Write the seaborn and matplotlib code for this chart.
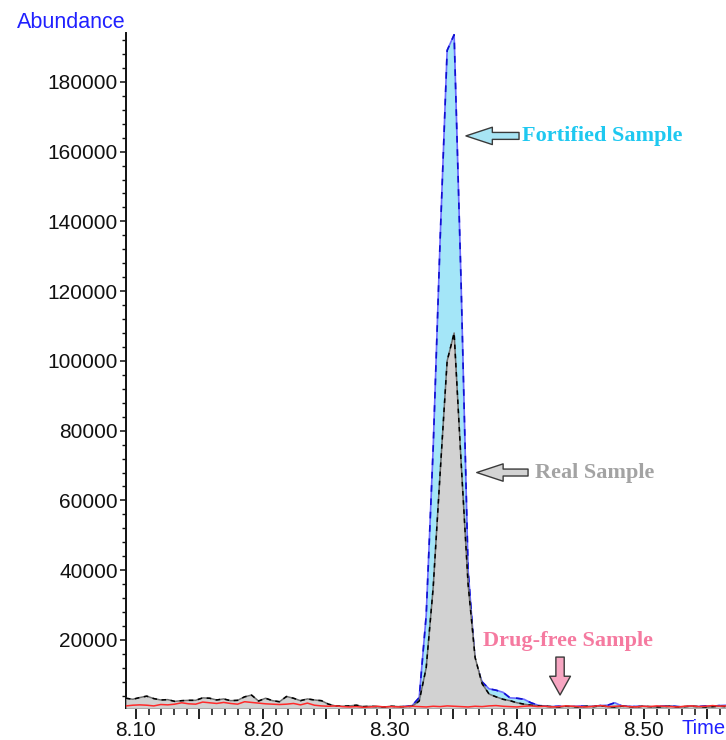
import numpy as np
import pandas as pd
import matplotlib
matplotlib.use("Agg")
import matplotlib.pyplot as plt
import seaborn as sns
from matplotlib.ticker import MultipleLocator, FixedLocator, FuncFormatter

# ---------------- data ----------------
time_min = [
    8.0920, 8.0975, 8.1030, 8.1085, 8.1140, 8.1195, 8.1250, 8.1305, 8.1360, 8.1415,
    8.1470, 8.1525, 8.1580, 8.1635, 8.1690, 8.1745, 8.1800, 8.1855, 8.1910, 8.1965,
    8.2020, 8.2075, 8.2130, 8.2185, 8.2240, 8.2295, 8.2350, 8.2405, 8.2460, 8.2515,
    8.2570, 8.2625, 8.2680, 8.2735, 8.2790, 8.2845, 8.2900, 8.2955, 8.3010, 8.3065,
    8.3120, 8.3175, 8.3230, 8.3285, 8.3340, 8.3395, 8.3450, 8.3505, 8.3560, 8.3615,
    8.3670, 8.3725, 8.3780, 8.3835, 8.3890, 8.3945, 8.4000, 8.4055, 8.4110, 8.4165,
    8.4220, 8.4275, 8.4330, 8.4385, 8.4440, 8.4495, 8.4550, 8.4605, 8.4660, 8.4715,
    8.4770, 8.4825, 8.4880, 8.4935, 8.4990, 8.5045, 8.5100, 8.5155, 8.5210, 8.5265,
    8.5320, 8.5375, 8.5430, 8.5485, 8.5540, 8.5595, 8.5650,
]

fortified = [
    1000, 1100, 1000, 900, 1000, 1300, 1000, 900, 1100, 800,
    900, 1200, 1600, 1000, 1800, 1300, 1100, 1000, 1200, 1500,
    1900, 1700, 1300, 1000, 1400, 2000, 2300, 1700, 1100, 1000,
    900, 800, 900, 700, 800, 700, 800, 700, 800, 800,
    900, 1200, 3500, 27000, 75000, 135000, 189000, 193500, 122000, 40000,
    14000, 8000, 6000, 5600, 5000, 3400, 3300, 3000, 2000, 1300,
    1000, 900, 1000, 800, 900, 1100, 900, 1000, 1200, 1300,
    2000, 1100, 1000, 900, 1000, 800, 900, 1000, 1100, 900,
    800, 1000, 900, 1100, 1000, 1200, 1300,
]

real = [
    3300, 3000, 3500, 3900, 3200, 2800, 2900, 2400, 2600, 2700,
    2700, 3400, 3300, 2800, 3100, 2600, 2700, 3700, 4200, 2500,
    3300, 2600, 2300, 3800, 3300, 2600, 3100, 2800, 2600, 1600,
    1100, 1000, 1100, 1300, 900, 1000, 900, 800, 1000, 900,
    900, 1000, 2500, 12000, 35000, 68000, 100000, 108000, 71000, 36000,
    15000, 7500, 4500, 3700, 3000, 2600, 2000, 1600, 1300, 1100,
    1000, 900, 800, 1000, 900, 800, 1000, 900, 1100, 900,
    800, 1000, 900, 800, 1000, 900, 800, 900, 1000, 800,
    900, 1000, 900, 800, 900, 1000, 900,
]

drug_free = [
    1100, 1300, 1400, 1300, 1100, 1500, 1400, 1600, 2000, 1700,
    1600, 2200, 2000, 1800, 2100, 1800, 1600, 2300, 2100, 1900,
    1700, 1600, 1500, 1600, 1800, 1400, 1900, 1300, 1100, 1000,
    1100, 900, 800, 900, 700, 800, 1000, 800, 900, 800,
    900, 1000, 900, 800, 1000, 900, 1100, 1000, 900, 800,
    1000, 900, 1100, 1200, 1000, 900, 800, 1000, 1100, 900,
    1000, 800, 900, 1100, 1000, 900, 800, 1000, 1200, 900,
    1000, 1100, 900, 800, 1000, 900, 1100, 1000, 900, 800,
    1000, 1100, 900, 1000, 1200, 1000, 1100,
]

x_ticks_major = [8.10, 8.15, 8.20, 8.25, 8.30, 8.35, 8.40, 8.45, 8.50, 8.55]
y_ticks = [20000, 40000, 60000, 80000, 100000, 120000, 140000, 160000, 180000]

series_labels = ["Fortified Sample", "Real Sample", "Drug-free Sample"]

assert len(time_min) == len(fortified) == len(real) == len(drug_free)

df = pd.DataFrame({"Time": time_min, "Fortified": fortified,
                   "Real": real, "DrugFree": drug_free})

# ---------------- figure ----------------
sns.set_style("ticks")
plt.rcParams["font.family"] = ["Liberation Sans", "DejaVu Sans"]

W, H = 726, 740
fig = plt.figure(figsize=(W / 100, H / 100), dpi=100)
ax_left, ax_right, ax_top, ax_bot = 126, 726, 33, 708.3
ax = fig.add_axes([ax_left / W, (H - ax_bot) / H,
                   (ax_right - ax_left) / W, (ax_bot - ax_top) / H])

ymin, ymax = 415, 194000
# fills and traces
ax.fill_between(df["Time"], ymin, df["Fortified"], color="#a4e6f8", lw=0, zorder=1)
sns.lineplot(data=df, x="Time", y="Fortified", ax=ax, color="#6a6aff", lw=1.2,
             zorder=2, estimator=None)
sns.lineplot(data=df, x="Time", y="Fortified", ax=ax, color="#1010d0", lw=1.2,
             dashes=(4, 4), zorder=2.1, estimator=None)
ax.fill_between(df["Time"], ymin, df["Real"], color="#d2d2d2", lw=0, zorder=3)
sns.lineplot(data=df, x="Time", y="Real", ax=ax, color="#6e6e6e", lw=1.1,
             zorder=4, estimator=None)
sns.lineplot(data=df, x="Time", y="Real", ax=ax, color="#000000", lw=1.1,
             dashes=(3, 3), zorder=4.1, estimator=None)
sns.lineplot(data=df, x="Time", y="DrugFree", ax=ax, color="#ff2a2a", lw=1.1,
             zorder=5, estimator=None)

ax.set_xlim(8.09213, 8.56457)
ax.set_ylim(ymin, ymax)

# spines and ticks
for s in ["top", "right"]:
    ax.spines[s].set_visible(False)
for s in ["left", "bottom"]:
    ax.spines[s].set_linewidth(1.4)
    ax.spines[s].set_color("#111111")

ax.xaxis.set_major_locator(FixedLocator(x_ticks_major))
ax.xaxis.set_minor_locator(MultipleLocator(0.01))
ax.xaxis.set_major_formatter(FuncFormatter(
    lambda v, p: f"{v:.2f}" if abs(round(v * 10) - v * 10) < 1e-6 else ""))
ax.yaxis.set_major_locator(FixedLocator(y_ticks))
ax.yaxis.set_minor_locator(MultipleLocator(4000))
ax.yaxis.set_major_formatter(FuncFormatter(lambda v, p: f"{int(v)}"))

ax.tick_params(axis="x", which="major", length=8, width=1.3, direction="out",
               labelsize=15, pad=1, colors="#111111")
ax.tick_params(axis="x", which="minor", length=5, width=1.1, direction="out",
               colors="#111111")
ax.tick_params(axis="y", which="major", length=4, width=1.1, direction="out",
               labelsize=15, pad=2, colors="#111111")
ax.tick_params(axis="y", which="minor", length=3, width=1.0, direction="out",
               colors="#111111")
ax.set_xlabel("")
ax.set_ylabel("")

# axis titles
fig.text(17 / W, 1 - 22 / H, "Abundance", color="#2020ff", fontsize=15.5,
         ha="left", va="center")
fig.text(682 / W, 1 - 728 / H, "Time", color="#2020ff", fontsize=14.5,
         ha="left", va="center")

# annotations
serif = ["Liberation Serif", "DejaVu Serif"]


def arrow(tip, tail, fc, style):
    ax.annotate("", xy=tip, xytext=tail,
                arrowprops=dict(arrowstyle=style, fc=fc, ec="#3a3a3a", lw=1.0,
                                mutation_scale=10, shrinkA=0, shrinkB=0),
                zorder=6)


side_style = "simple,head_length=1.9,head_width=1.25,tail_width=0.5"
down_style = "simple,head_length=1.35,head_width=1.5,tail_width=0.6"

arrow((8.3598, 164500), (8.4016, 164500), "#a8e4f4", side_style)
ax.text(8.4040, 164500, series_labels[0], color="#1ec8f0", fontweight="bold",
        family=serif, fontsize=16, ha="left", va="center", zorder=7)

arrow((8.3683, 68000), (8.4087, 68000), "#d3d3d3", side_style)
ax.text(8.4140, 68000, series_labels[1], color="#a3a3a3", fontweight="bold",
        family=serif, fontsize=16, ha="left", va="center", zorder=7)

arrow((8.4339, 4230), (8.4339, 15100), "#f7a6c2", down_style)
ax.text(8.4400, 19600, series_labels[2], color="#f57aa0", fontweight="bold",
        family=serif, fontsize=16, ha="center", va="center", zorder=7)

fig.savefig("out.png", dpi=100)
